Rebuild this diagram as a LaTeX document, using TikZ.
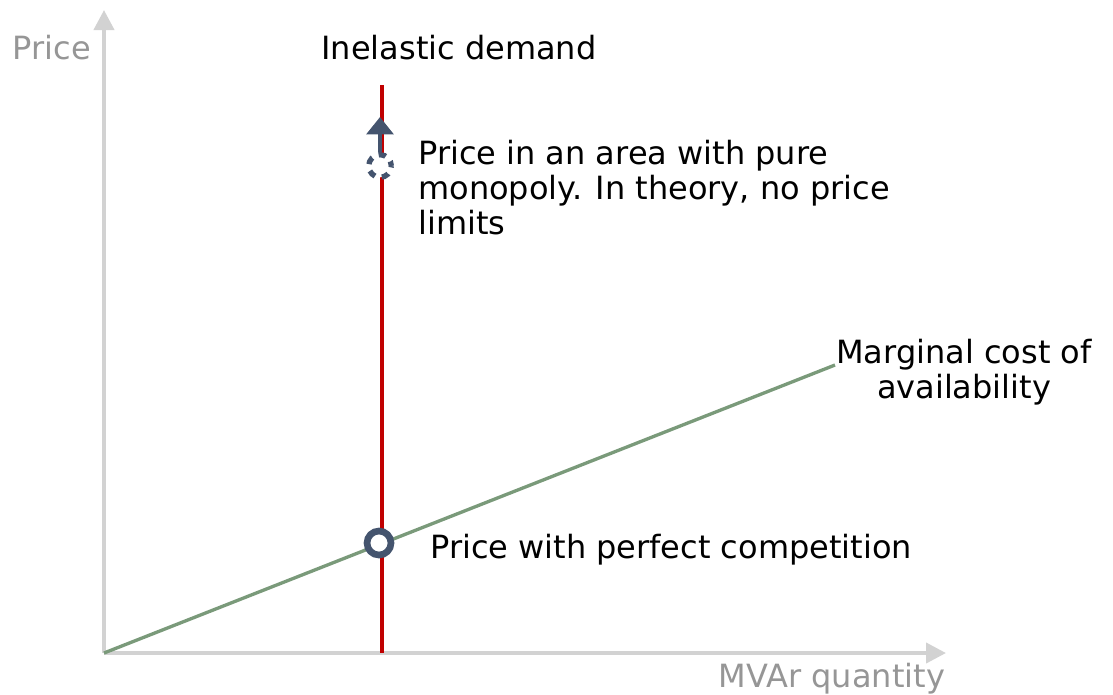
\documentclass[tikz,border=0pt]{standalone}
\usepackage{fontspec}
\setmainfont{DejaVu Sans}
\usetikzlibrary{arrows.meta}
\definecolor{axisgray}{RGB}{210,210,210}
\definecolor{labelgray}{RGB}{150,150,150}
\definecolor{demandred}{RGB}{192,0,0}
\definecolor{costgreen}{RGB}{122,154,122}
\definecolor{navy}{RGB}{68,84,110}
\tikzset{
  axis/.style={draw=axisgray, line width=3pt, -{Triangle[length=15pt,width=15pt]}},
  txt/.style={font=\fontsize{24}{26.25}\selectfont, inner sep=0pt},
  gtxt/.style={txt, text=labelgray},
}
\begin{document}
\begin{tikzpicture}[x=0.75pt,y=-0.75pt]
\useasboundingbox (0,0) rectangle (1113,694);
\coordinate (O) at (104,653);
\coordinate (ytop) at (104,10);
\coordinate (xend) at (946,653);
\coordinate (rtop) at (382,85);
\coordinate (rbot) at (382,653);
\coordinate (gend) at (835,365);
\draw[axis] (O) -- (ytop);
\draw[axis] (O) -- (xend);
\draw[demandred, line width=2.5pt] (rtop) -- (rbot);
\draw[costgreen, line width=2.5pt] (O) -- (gend);
\node[circle, draw=navy, fill=white, line width=5pt, minimum size=18pt, inner sep=0pt] (comp) at (379,543) {};
\node[circle, draw=navy, fill=white, line width=4pt, dash pattern=on 5.5pt off 5.3pt, dash phase=2pt, minimum size=17pt, inner sep=0pt] (mono) at (380,166) {};
\coordinate (atip) at (380,117);
\draw[navy, line width=3pt, -{Triangle[length=13pt,width=20pt]}] (mono.north) -- (atip);
\node[gtxt] (py) at (52,48) {Price};
\node[txt] (id) at (459,48) {Inelastic demand};
\node[txt, anchor=north west, align=left] (pm) at (418,140) {Price in an area with pure\\monopoly. In theory, no price\\limits};
\node[txt, align=center] (mc) at (964,372) {Marginal cost of\\availability};
\node[txt, anchor=west] (pc) at (430,550) {Price with perfect competition};
\node[gtxt] (mv) at (832,679) {MVAr quantity};
\end{tikzpicture}
\end{document}
